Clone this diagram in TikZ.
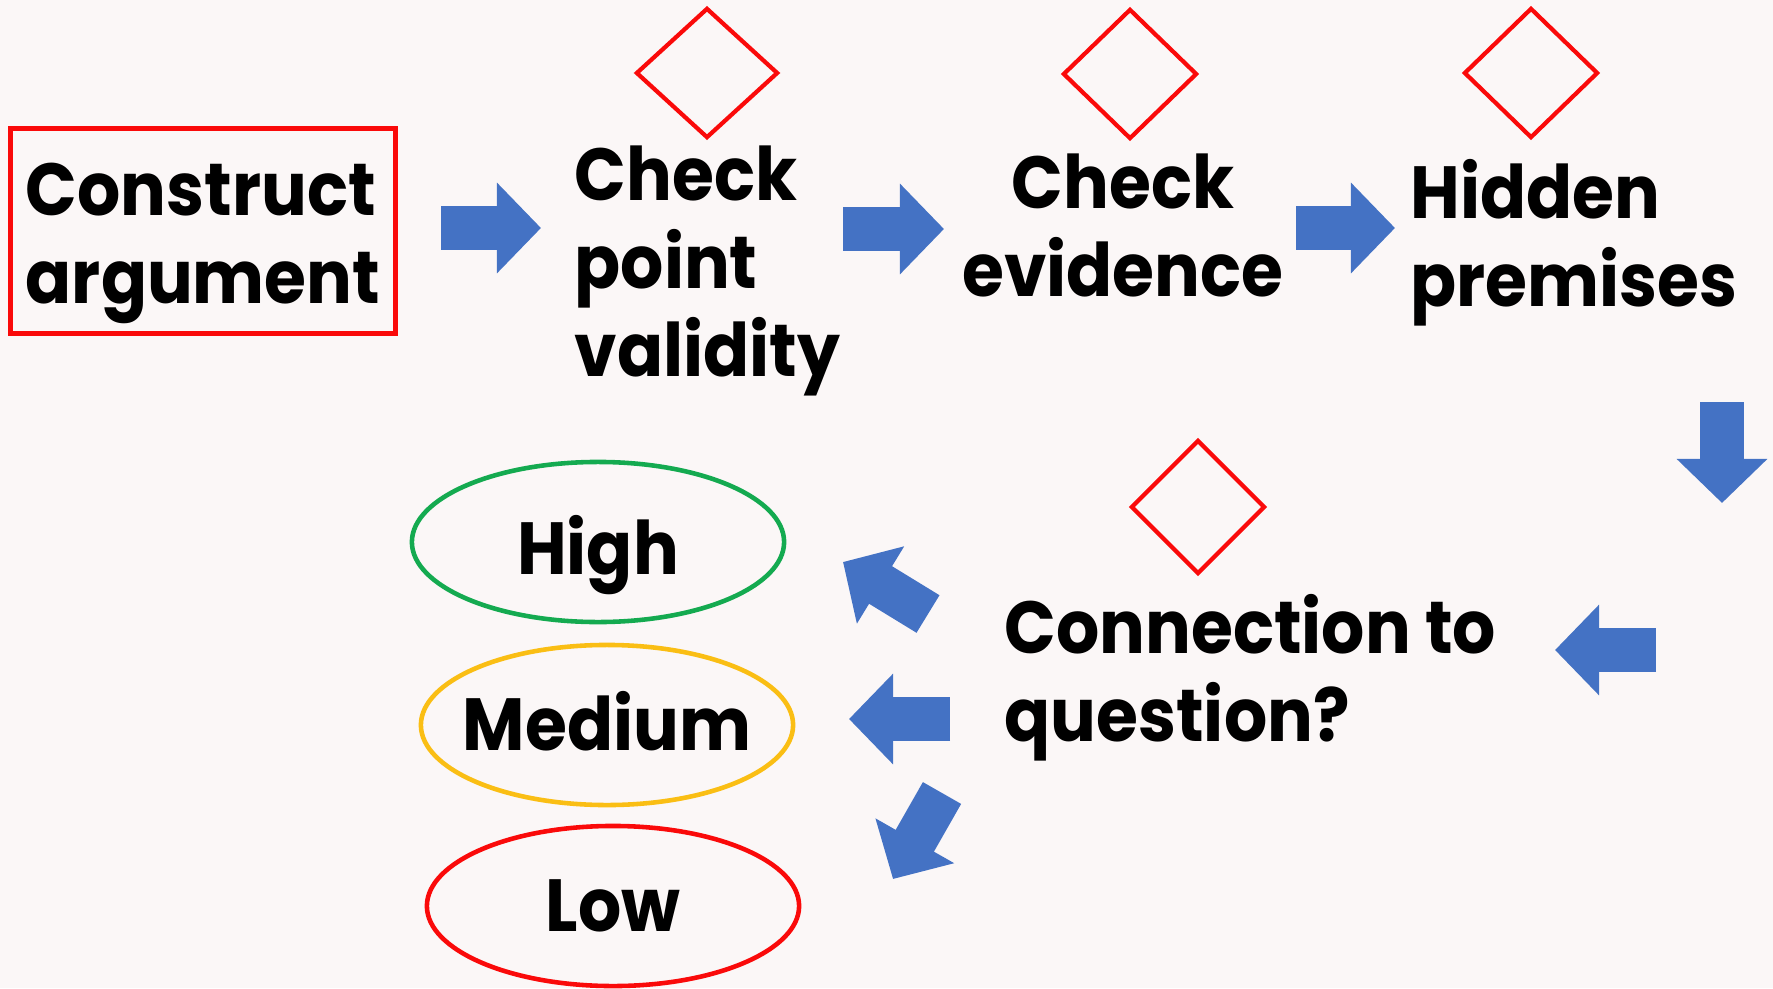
\documentclass[tikz,border=0pt]{standalone}
\usepackage{fontspec}
\setmainfont{Poppins}[FakeStretch=0.92]
\usetikzlibrary{shapes.geometric,arrows.meta}

\definecolor{bgpaper}{RGB}{251,247,247}
\definecolor{arrowblue}{RGB}{68,114,196}
\definecolor{boxred}{RGB}{250,10,10}
\definecolor{highgreen}{RGB}{20,170,80}
\definecolor{midyellow}{RGB}{250,190,20}

\tikzset{
  steptext/.style={font=\fontsize{21}{25}\selectfont\bfseries, inner sep=0pt},
  mark diamond/.style={diamond, draw=boxred, line width=1.2pt, minimum width=1.34cm, minimum height=1.3cm, inner sep=0pt},
  rating/.style={ellipse, line width=1.3pt, minimum width=3.72cm, minimum height=1.6cm, font=\fontsize{21}{25}\selectfont\bfseries, inner sep=0pt, text height=14.7pt, text depth=0pt},
  blockarrow/.style={draw=arrowblue, line width=0.44cm, -{Triangle[length=0.44cm,width=0.88cm]}}
}

\begin{document}
\begin{tikzpicture}[x=0.01cm,y=-0.01cm]
\fill[bgpaper] (0,0) rectangle (1773,988);
\useasboundingbox (0,0) rectangle (1773,988);

% top row
\node[steptext, draw=boxred, line width=1.5pt, align=left, minimum width=3.85cm, minimum height=2.05cm, text depth=0pt] (construct) at (203,231) {\raisebox{-1.2pt}{Construct}\\\raisebox{-1.2pt}{argument}};
\node[steptext, align=left, anchor=north west] (pointvalidity) at (574,145) {Check\\point\\validity};
\node[steptext, align=center, anchor=north] (evidence) at (1123,153) {Check\\evidence};
\node[steptext, align=left, anchor=north west] (premises) at (1410,159) {Hidden\\premises};

\node[mark diamond, minimum width=1.42cm] (markvalidity) at (707,73) {};
\node[mark diamond] (markevidence) at (1130,74) {};
\node[mark diamond] (markpremises) at (1531,73) {};

% bottom part
\node[steptext, align=left, anchor=north west] (connection) at (1004,594) {Connection to\\question?};
\node[mark diamond, minimum height=1.34cm] (markconnection) at (1198,507) {};

\node[rating, draw=highgreen] (high) at (598,542) {\makebox[0pt]{\raisebox{-1.8pt}{High}}};
\node[rating, draw=midyellow] (medium) at (607,725) {\makebox[0pt]{Medium}};
\node[rating, draw=boxred] (low) at (613,906) {\makebox[0pt]{Low}};

% block arrows
\foreach \n/\sx/\sy/\ex/\ey in {1/441/228/541/228, 2/843/229/944/229, 3/1296/228/1395/228,
    4/1722/402/1722/503, 5/1656/650/1555/650, 6/928/614/843/562, 7/950/719/849/719, 8/942/793/893/879}{
  \coordinate (tail\n) at (\sx,\sy);
  \coordinate (tip\n) at (\ex,\ey);
  \draw[blockarrow] (tail\n) -- (tip\n);
}
\end{tikzpicture}
\end{document}
